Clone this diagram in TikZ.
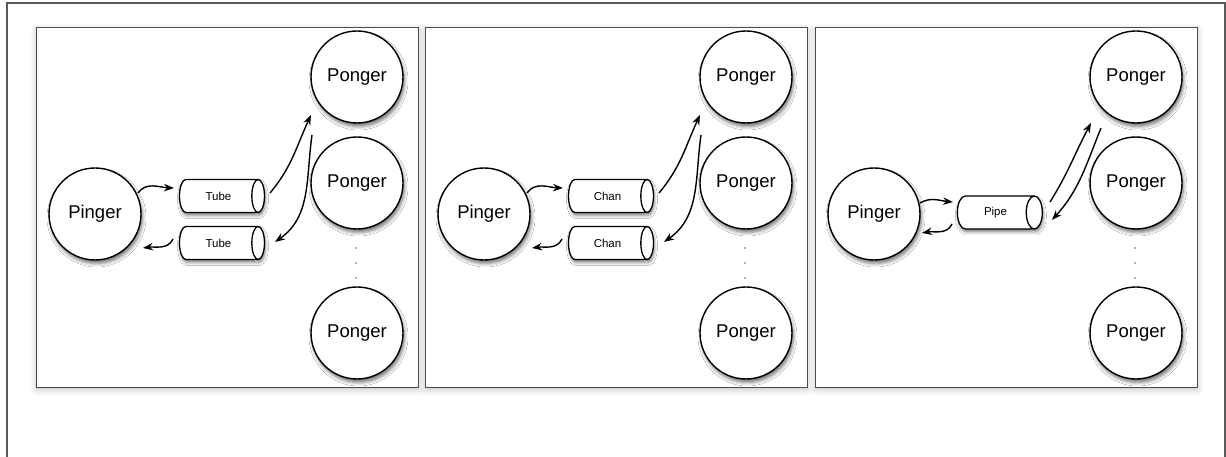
\documentclass[tikz,border=0pt]{standalone}
\usepackage{fontspec}
\setmainfont{Liberation Sans}
\usetikzlibrary{shapes.geometric,arrows.meta,shadows.blur}
\tikzset{
  panelbox/.style={draw=black!70, line width=0.9pt, fill=white, inner sep=0pt,
    minimum width=382pt, minimum height=360pt, anchor=south west,
    blur shadow={shadow xshift=0pt, shadow yshift=-2pt, shadow blur radius=6pt, shadow opacity=25}},
  actor/.style={circle, draw=black, line width=1.4pt, fill=white, minimum size=92pt, inner sep=0pt,
    font=\fontsize{18.5}{20}\selectfont,
    blur shadow={shadow xshift=1.5pt, shadow yshift=-3.5pt, shadow blur radius=3.5pt, shadow opacity=55}},
  tube/.style={cylinder, draw=black, line width=1.3pt, fill=white, minimum width=33pt, minimum height=85pt,
    aspect=1.5, inner sep=0pt, font=\fontsize{11.5}{12}\selectfont,
    blur shadow={shadow xshift=1pt, shadow yshift=-3pt, shadow blur radius=3pt, shadow opacity=50}},
  flow/.style={line width=1.4pt, -{Stealth[length=10pt,width=7.5pt]}},
  vdot/.style={circle, fill=black!60, inner sep=0pt, minimum size=1.6pt},
  outerframe/.style={draw=black!65, line width=1.5pt}
}
\newcommand\twotubepanel[3]{%
  \begin{scope}[xshift=#1pt, name prefix=#2-]
    \node[panelbox] (box) at (36,69) {};
    \node[actor] (pinger) at (95,243) {Pinger};
    \node[tube] (tin) at (218.5,261) {#3};
    \node[tube] (tout) at (218.5,214) {#3};
    \node[actor] (pong1) at (357,380) {Ponger};
    \node[actor] (pong2) at (357,274) {Ponger};
    \node[actor] (pong3) at (357,124) {Ponger};
    \node[vdot] (d1) at (356,209) {};
    \node[vdot] (d2) at (356,194) {};
    \node[vdot] (d3) at (356,179) {};
    \draw[flow] ([shift={(43,21)}]pinger.center) to[out=55,in=178] ([shift={(-44.5,8)}]tin.center);
    \draw[flow] ([shift={(-45.5,4)}]tout.center) to[out=245,in=8] ([shift={(48,-34)}]pinger.center);
    \draw[flow] ([shift={(51.5,3)}]tin.center) to[out=50,in=245] ([shift={(-46,-38)}]pong1.center);
    \draw[flow] ([shift={(-45,-58)}]pong1.center) to[out=262,in=35] ([shift={(56.5,1)}]tout.center);
  \end{scope}}
\begin{document}
\begin{tikzpicture}[x=1pt,y=1pt]
  \useasboundingbox (0,0) rectangle (1226,457);
  \draw[outerframe] (7,0) -- (7,454) -- (1225,454) -- (1225,0);
  \twotubepanel{0}{a}{Tube}
  \twotubepanel{389}{b}{Chan}
  \begin{scope}[xshift=779pt, name prefix=c-]
    \node[panelbox] (box) at (36,69) {};
    \node[actor] (pinger) at (95,243) {Pinger};
    \node[tube] (pipe) at (216.5,244.5) {Pipe};
    \node[actor] (pong1) at (357,380) {Ponger};
    \node[actor] (pong2) at (357,274) {Ponger};
    \node[actor] (pong3) at (357,124) {Ponger};
    \node[vdot] (d1) at (356,209) {};
    \node[vdot] (d2) at (356,194) {};
    \node[vdot] (d3) at (356,179) {};
    \draw[flow] ([shift={(46,11)}]pinger.center) to[out=30,in=175] ([shift={(-42.5,10.5)}]pipe.center);
    \draw[flow] ([shift={(-43.5,-11.5)}]pipe.center) to[out=245,in=10] ([shift={(48,-19)}]pinger.center);
    \draw[flow] ([shift={(54.5,10.5)}]pipe.center) to[out=58,in=242] ([shift={(-45,-46)}]pong1.center);
    \draw[flow] ([shift={(-35,-51)}]pong1.center) to[out=248,in=48] ([shift={(56.5,-7.5)}]pipe.center);
  \end{scope}
\end{tikzpicture}
\end{document}
